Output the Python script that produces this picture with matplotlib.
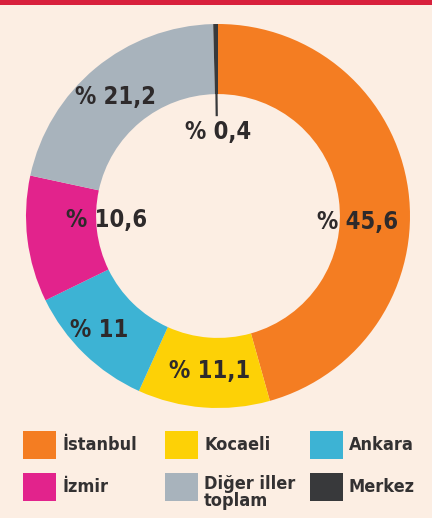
import numpy as np
import matplotlib
matplotlib.use("Agg")
from matplotlib import pyplot as plt
from matplotlib.patches import Rectangle

# veriler
iller = ['İstanbul', 'Kocaeli', 'Ankara', 'İzmir', 'Diğer iller\ntoplam', 'Merkez']
oranlar = [45.6, 11.1, 11.0, 10.6, 21.2, 0.4]
etiketler = ['% 45,6', '% 11,1', '% 11', '% 10,6', '% 21,2', '% 0,4']
renkler = ['#F47D22', '#FDD106', '#3DB3D4', '#E2238C', '#A8B3BC', '#38393B']

# etiket yerleşimi (yarıçap, açı kayması)
etiket_r = [0.73, 0.81, 0.855, 0.58, 0.82, 0.44]
etiket_kayma = [-10.4, 1.2, -2.0, -5.0, 1.0, -1.0]

W, H = 432, 518
bg = '#FCEEE3'
font = ['DejaVu Sans']

fig = plt.figure(figsize=(W / 100, H / 100), dpi=100, facecolor=bg)

# üstteki kırmızı şerit
fig.patches.append(Rectangle((0, 1 - 5 / H), 1, 5 / H, transform=fig.transFigure,
                             facecolor='#D8203C', edgecolor='none'))

# halka grafik
cx, cy, R = 218, 216, 192
ax = fig.add_axes([(cx - R) / W, (H - cy - R) / H, 2 * R / W, 2 * R / H])
ax.set_facecolor(bg)
wedges, _ = ax.pie(oranlar, colors=renkler, startangle=90, counterclock=False,
                   wedgeprops=dict(width=0.365, edgecolor='none'))
ax.set_xlim(-1, 1)
ax.set_ylim(-1, 1)
ax.axis('off')

for i, w in enumerate(wedges):
    orta = (w.theta1 + w.theta2) / 2
    a = np.deg2rad(orta + etiket_kayma[i])
    ax.text(etiket_r[i] * np.cos(a), etiket_r[i] * np.sin(a), etiketler[i],
            ha='center', va='center', fontsize=17, fontweight='bold',
            fontstretch='condensed', color='#2E2A2B', family=font)

# Merkez çizgisi
m = wedges[-1]
a = np.deg2rad((m.theta1 + m.theta2) / 2)
ax.plot([0.52 * np.cos(a), 0.99 * np.cos(a)], [0.52 * np.sin(a), 0.99 * np.sin(a)],
        color=renkler[-1], lw=1.6, solid_capstyle='butt')

# lejant
kolon_x = [23, 165, 310]
satir_y = [431, 473]
for i, ad in enumerate(iller):
    x = kolon_x[i % 3]
    y = satir_y[i // 3]
    fig.patches.append(Rectangle((x / W, 1 - (y + 28) / H), 33 / W, 28 / H,
                                 transform=fig.transFigure,
                                 facecolor=renkler[i], edgecolor='none'))
    if '\n' in ad:
        ty, va = y + 2, 'top'
    else:
        ty, va = y + 14, 'center'
    fig.text((x + 39) / W, 1 - ty / H, ad, ha='left', va=va,
             fontsize=13, color='#333132', family=font, linespacing=0.95,
             fontweight='bold', fontstretch='condensed')

fig.savefig('out.png', dpi=100, facecolor=bg)
